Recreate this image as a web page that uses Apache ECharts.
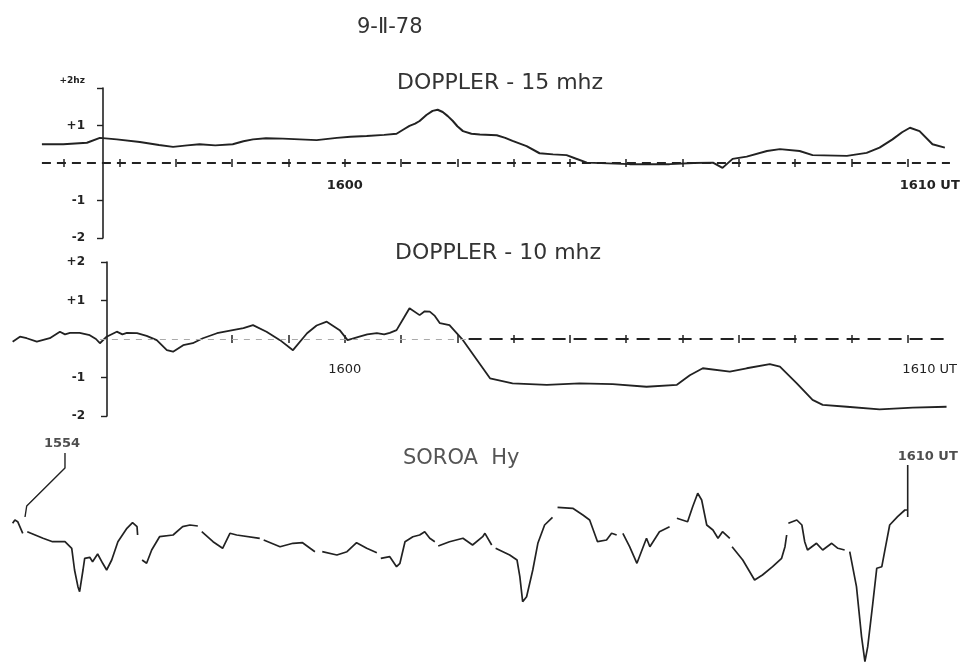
<!DOCTYPE html>
<html><head><meta charset="utf-8">
<script src="https://cdn.jsdelivr.net/npm/echarts@6/dist/echarts.min.js"></script>
<style>html,body{margin:0;padding:0;background:#fff}#c{width:970px;height:664px}</style>
</head><body><div id="c"></div>
<script>
// time in minutes after 15:00 UT
const timeRange = [54, 71];
const topTicks = [55,56,57,58,59,60,61,62,63,64,65,66,67,68,69,70];
const midTicks = [58,59,60,61,62,63,64,65,66,67,68,69,70];
const timeLabelValues = [60, 70];
const timeLabels = {60: '1600', 70: '1610 UT'};
const dopplerTicks = {2: '+2', 1: '+1', 0: '', '-1': '-1', '-2': '-2'};

// DOPPLER 15 MHz (Hz)
const doppler15 = [[54.62,0.50],[55.0,0.50],[55.42,0.54],[55.65,0.67],[55.95,0.63],[56.36,0.56],[56.7,0.48],[56.95,0.43],[57.2,0.47],[57.42,0.50],[57.7,0.47],[58.01,0.50],[58.2,0.58],[58.37,0.63],[58.6,0.66],[58.9,0.65],[59.2,0.63],[59.5,0.61],[59.86,0.67],[60.1,0.70],[60.39,0.72],[60.7,0.75],[60.92,0.78],[61.05,0.90],[61.15,0.99],[61.25,1.05],[61.33,1.12],[61.45,1.28],[61.56,1.39],[61.65,1.42],[61.74,1.36],[61.83,1.25],[61.92,1.12],[62.0,0.98],[62.10,0.85],[62.25,0.78],[62.40,0.76],[62.7,0.74],[62.85,0.67],[62.98,0.59],[63.23,0.45],[63.46,0.26],[63.7,0.23],[63.94,0.21],[64.1,0.12],[64.30,0.01],[65.06,-0.03],[65.77,-0.03],[66.2,0.0],[66.54,0.01],[66.71,-0.13],[66.89,0.11],[67.14,0.17],[67.50,0.32],[67.73,0.37],[68.08,0.32],[68.31,0.21],[68.92,0.19],[69.27,0.27],[69.50,0.41],[69.73,0.63],[69.9,0.82],[70.04,0.94],[70.21,0.85],[70.44,0.50],[70.66,0.41]];

// DOPPLER 10 MHz (Hz)
const doppler10 = [[54.10,-0.07],[54.23,0.06],[54.35,0.02],[54.53,-0.07],[54.76,0.02],[54.94,0.19],[55.03,0.12],[55.12,0.16],[55.29,0.16],[55.47,0.10],[55.58,0.0],[55.65,-0.11],[55.77,0.06],[55.95,0.19],[56.05,0.12],[56.13,0.16],[56.31,0.15],[56.48,0.08],[56.66,-0.03],[56.84,-0.29],[56.95,-0.33],[57.13,-0.16],[57.30,-0.11],[57.48,0.02],[57.73,0.15],[58.01,0.23],[58.2,0.28],[58.37,0.36],[58.61,0.19],[58.85,-0.03],[59.08,-0.29],[59.33,0.15],[59.5,0.35],[59.68,0.45],[59.91,0.23],[60.05,-0.03],[60.26,0.06],[60.4,0.12],[60.57,0.15],[60.7,0.12],[60.80,0.16],[60.92,0.23],[61.05,0.55],[61.15,0.80],[61.33,0.62],[61.42,0.72],[61.51,0.71],[61.60,0.60],[61.69,0.41],[61.86,0.36],[62.10,-0.03],[62.40,-0.65],[62.58,-1.02],[62.98,-1.15],[63.59,-1.19],[64.17,-1.15],[64.76,-1.17],[65.36,-1.24],[65.90,-1.19],[66.13,-0.94],[66.36,-0.76],[66.84,-0.85],[67.14,-0.76],[67.55,-0.65],[67.73,-0.72],[68.03,-1.15],[68.31,-1.58],[68.49,-1.71],[68.92,-1.76],[69.50,-1.83],[70.09,-1.78],[70.69,-1.76]];

// SOROA Hy (relative units), pen strokes
const soroaSegments = [
 [[54.10,-0.33],[54.14,0],[54.19,-0.17],[54.28,-1.33]],
 [[54.36,-1.17],[54.64,-1.83],[54.81,-2.17],[55.03,-2.17],[55.15,-2.83],[55.20,-5.0],[55.26,-6.67],[55.29,-7.17],[55.35,-5.0],[55.38,-3.83],[55.47,-3.73],[55.52,-4.17],[55.61,-3.4],[55.70,-4.33],[55.77,-5.0],[55.86,-4.0],[55.97,-2.17],[56.13,-0.83],[56.23,-0.27],[56.31,-0.67],[56.32,-1.5]],
 [[56.40,-4.0],[56.48,-4.33],[56.57,-3.0],[56.71,-1.67],[56.95,-1.5],[57.12,-0.67],[57.25,-0.5],[57.39,-0.6]],
 [[57.46,-1.17],[57.66,-2.17],[57.83,-2.83],[57.96,-1.33],[58.08,-1.5],[58.49,-1.83]],
 [[58.56,-2.0],[58.85,-2.67],[59.08,-2.33],[59.25,-2.27],[59.47,-3.17]],
 [[59.60,-3.17],[59.86,-3.5],[60.04,-3.17],[60.21,-2.27],[60.39,-2.83],[60.57,-3.27]],
 [[60.64,-3.83],[60.80,-3.67],[60.92,-4.67],[60.98,-4.33],[61.07,-2.17],[61.21,-1.67],[61.33,-1.5],[61.42,-1.17],[61.51,-1.83],[61.60,-2.17]],
 [[61.66,-2.6],[61.86,-2.17],[62.10,-1.83],[62.27,-2.5],[62.45,-1.67],[62.49,-1.33],[62.61,-2.5]],
 [[62.68,-2.83],[62.93,-3.5],[63.06,-4.0],[63.11,-5.67],[63.16,-8.17],[63.23,-7.67],[63.34,-5.0],[63.43,-2.33],[63.55,-0.5],[63.69,0.27]],
 [[63.78,1.27],[64.05,1.17],[64.23,0.5],[64.35,0],[64.49,-2.17],[64.65,-2.0],[64.74,-1.33],[64.83,-1.5]],
 [[64.94,-1.33],[65.06,-2.67],[65.19,-4.33],[65.28,-3.0],[65.36,-1.83],[65.42,-2.67],[65.59,-1.17],[65.77,-0.67]],
 [[65.90,0.17],[66.09,-0.17],[66.18,1.33],[66.27,2.67],[66.34,2.0],[66.43,-0.5],[66.54,-1.0],[66.63,-1.83],[66.71,-1.17],[66.84,-1.83]],
 [[66.88,-2.67],[67.07,-4.0],[67.28,-6.0],[67.42,-5.5],[67.60,-4.67],[67.76,-3.83],[67.82,-2.67],[67.85,-1.5]],
 [[67.88,-0.33],[68.03,0],[68.12,-0.5],[68.17,-2.17],[68.22,-3.0],[68.38,-2.33],[68.49,-3.0],[68.65,-2.33],[68.76,-2.83],[68.88,-3.0]],
 [[68.97,-3.17],[69.09,-6.67],[69.18,-11.67],[69.24,-14.17],[69.29,-12.67],[69.38,-8.33],[69.45,-4.83],[69.54,-4.67],[69.59,-3.17],[69.68,-0.5],[69.82,0.33],[69.95,1.0],[70.00,1.0]]
];
const marker1554 = [[55.03,6.7],[55.03,5.2],[54.35,1.4],[54.32,0.3]];
const marker1610 = [[70.0,5.5],[70.0,0.3]];
const topZeroLine = [54.62, 70.75];
const midZeroThin = [55.65, 62.2];
const midZeroThick = [62.2, 70.75];

const soroa = [];
soroaSegments.forEach((seg, i) => {
  if (i > 0) soroa.push([seg[0][0] - 0.01, '-']);
  seg.forEach(p => soroa.push(p));
});

const FONT = 'DejaVu Sans';
const INK = '#222';

// axes sit on the zero line of their panel (offset from the grid edge)
function timeAxis(grid, pos, ticks, offset, withLabels, margin, lblWeight) {
  return {
    type: 'value', gridIndex: grid, position: pos, offset: offset, min: timeRange[0], max: timeRange[1],
    axisLine: { show: false, onZero: false },
    axisTick: { show: true, length: 4, customValues: ticks, lineStyle: { color: INK, width: 1.5 } },
    axisLabel: withLabels ? {
      show: true, customValues: timeLabelValues, margin: margin,
      color: INK, fontFamily: FONT, fontSize: 13, fontWeight: lblWeight,
      formatter: v => v === 70 ? '{r|' + timeLabels[v] + '}' : timeLabels[v],
      rich: { r: { padding: [0, 0, 0, 44], fontFamily: FONT, fontSize: 13, fontWeight: lblWeight, color: INK } }
    } : { show: false },
    splitLine: { show: false }
  };
}
function dopplerAxis(grid, offset, margin, topLabel) {
  return {
    type: 'value', gridIndex: grid, position: 'left', offset: offset,
    min: -2, max: 2, interval: 1,
    axisLine: { show: true, onZero: false, lineStyle: { color: INK, width: 1.6 } },
    axisTick: { show: true, length: 6, customValues: [-2, -1, 1, 2], lineStyle: { color: INK, width: 1.4 } },
    axisLabel: {
      margin: margin, color: INK, fontFamily: FONT, fontSize: 12, fontWeight: 'bold',
      formatter: v => (v === 2 ? topLabel : dopplerTicks[v]),
      rich: { s: { fontSize: 9, fontWeight: 'bold', fontFamily: FONT, color: INK, padding: [0, 0, 14, 0] } }
    },
    splitLine: { show: false }
  };
}
const zeroStyle = (w, c, d) => ({ width: w, color: c, type: d });

const option = {
  animation: false,
  backgroundColor: '#fff',
  title: [
    { text: '9-Ⅱ-78', left: 352, top: 12, textStyle: { fontFamily: FONT, fontSize: 21, fontWeight: 'normal', color: '#333' } },
    { text: 'DOPPLER - 15 mhz', left: 392, top: 67, textStyle: { fontFamily: FONT, fontSize: 22, fontWeight: 'normal', color: '#333' } },
    { text: 'DOPPLER - 10 mhz', left: 390, top: 237, textStyle: { fontFamily: FONT, fontSize: 22, fontWeight: 'normal', color: '#333' } },
    { text: 'SOROA  Hy', left: 398, top: 443, textStyle: { fontFamily: FONT, fontSize: 21, fontWeight: 'normal', color: '#555' } }
  ],
  grid: [
    { left: 7, right: 6, top: 88, height: 150 },
    { left: 7, right: 6, top: 262, height: 154 },
    { left: 7, right: 6, top: 440, height: 224 }
  ],
  xAxis: [
    timeAxis(0, 'bottom', topTicks, -75, true, 16, 'bold'),
    timeAxis(0, 'top', topTicks, -75, false),
    timeAxis(1, 'bottom', midTicks, -77, true, 24, 'normal'),
    timeAxis(1, 'top', midTicks, -77, false),
    { type: 'value', gridIndex: 2, min: timeRange[0], max: timeRange[1], show: false }
  ],
  yAxis: [
    dopplerAxis(0, -96, 18, '{s|+2hz}'),
    dopplerAxis(1, -100, 22, '+2'),
    { type: 'value', gridIndex: 2, min: -14.4, max: 8, show: false }
  ],
  series: [
    {
      type: 'line', xAxisIndex: 0, yAxisIndex: 0, data: doppler15, showSymbol: false,
      lineStyle: { color: INK, width: 2 },
      markLine: { silent: true, symbol: ['none', 'none'], label: { show: false },
        data: [[{ coord: [topZeroLine[0], 0], lineStyle: zeroStyle(1.8, INK, [9, 6]) }, { coord: [topZeroLine[1], 0] }]] }
    },
    {
      type: 'line', xAxisIndex: 2, yAxisIndex: 1, data: doppler10, showSymbol: false,
      lineStyle: { color: INK, width: 1.8 },
      markLine: { silent: true, symbol: ['none', 'none'], label: { show: false },
        data: [
          [{ coord: [midZeroThin[0], 0], lineStyle: zeroStyle(1, '#aaa', [6, 6]) }, { coord: [midZeroThin[1], 0] }],
          [{ coord: [midZeroThick[0], 0], lineStyle: zeroStyle(2.2, INK, [13, 8]) }, { coord: [midZeroThick[1], 0] }]
        ] }
    },
    {
      type: 'line', xAxisIndex: 4, yAxisIndex: 2, data: soroa, showSymbol: false, connectNulls: false,
      lineStyle: { color: INK, width: 1.7 }
    },
    { type: 'line', xAxisIndex: 4, yAxisIndex: 2, data: marker1554, showSymbol: false, lineStyle: { color: INK, width: 1.4 } },
    { type: 'line', xAxisIndex: 4, yAxisIndex: 2, data: marker1610, showSymbol: false, lineStyle: { color: INK, width: 1.6 } },
    {
      type: 'scatter', xAxisIndex: 4, yAxisIndex: 2, symbolSize: 0, silent: true,
      data: [
        { value: marker1554[0], label: { show: true, position: 'top', distance: 3, offset: [-3, 0], formatter: '1554' } },
        { value: marker1610[0], label: { show: true, position: 'top', distance: 2, offset: [20, 0], formatter: '1610 UT' } }
      ],
      label: { color: INK, fontFamily: FONT, fontSize: 13, fontWeight: 'bold' }
    }
  ]
};
const chart = echarts.init(document.getElementById('c'));
chart.setOption(option);
</script>
</body></html>
